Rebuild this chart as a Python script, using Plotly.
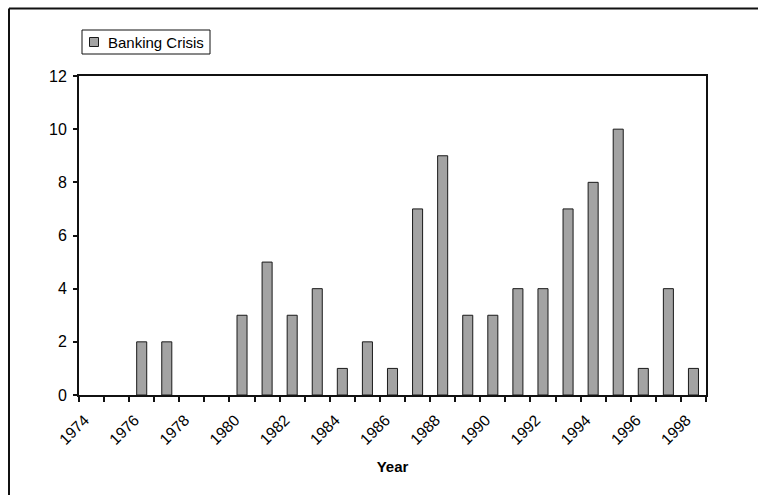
import plotly.graph_objects as go

# Number of banking crises per year
years = [str(y) for y in range(1974, 1999)]
crises = [0, 0, 2, 2, 0, 0, 3, 5, 3, 4, 1, 2, 1, 7, 9, 3, 3, 4, 4, 7, 8, 10, 1, 4, 1]
# Only every other year gets a label
tick_text = [y if int(y) % 2 == 0 else "" for y in years]
series_name = "Banking Crisis"

W, H = 758, 495
L, R, T, B = 79, 52, 76, 100
PW, PH = W - L - R, H - T - B

FONT = "Liberation Sans, Arial, Helvetica, sans-serif"
BAR_FILL = "#a3a3a3"
INK = "#111111"


def px_x(px):
    """Page pixel x -> paper coordinate."""
    return (px - L) / PW


def px_y(py):
    """Page pixel y -> paper coordinate."""
    return (H - B - py) / PH


fig = go.Figure(
    go.Bar(
        x=years,
        y=crises,
        name=series_name,
        marker=dict(
            color=BAR_FILL,
            # no outline on empty years so nothing shows on the baseline
            line=dict(color="#1a1a1a", width=[0 if v == 0 else 1 for v in crises]),
        ),
        showlegend=False,
    )
)

shapes = [
    # chart-area frame (top and left edges)
    dict(type="line", xref="paper", yref="paper",
         x0=px_x(9), x1=px_x(W + 5), y0=px_y(8.5), y1=px_y(8.5),
         line=dict(color=INK, width=2)),
    dict(type="line", xref="paper", yref="paper",
         x0=px_x(9), x1=px_x(9), y0=px_y(8.5), y1=px_y(H + 5),
         line=dict(color=INK, width=2)),
    # legend box
    dict(type="rect", xref="paper", yref="paper",
         x0=px_x(82), x1=px_x(210), y0=px_y(30), y1=px_y(54),
         line=dict(color=INK, width=1), fillcolor="white"),
    # legend swatch
    dict(type="rect", xref="paper", yref="paper",
         x0=px_x(89.5), x1=px_x(98.5), y0=px_y(37.5), y1=px_y(46.5),
         line=dict(color="#1a1a1a", width=1), fillcolor=BAR_FILL),
]

annotations = [
    dict(text=series_name, xref="paper", yref="paper",
         x=px_x(106), y=px_y(42), xanchor="left", yanchor="middle",
         showarrow=False, font=dict(family=FONT, size=15, color="black")),
]

fig.update_layout(
    width=W,
    height=H,
    margin=dict(l=L, r=R, t=T, b=B, autoexpand=False),
    paper_bgcolor="white",
    plot_bgcolor="white",
    bargap=0.6,
    font=dict(family=FONT, size=15, color="black"),
    shapes=shapes,
    annotations=annotations,
    xaxis=dict(
        type="category",
        categoryorder="array",
        categoryarray=years,
        tickmode="array",
        tickvals=years,
        ticktext=tick_text,
        tickson="boundaries",
        ticks="outside",
        ticklen=5,
        tickwidth=1.5,
        tickcolor=INK,
        tickangle=-45,
        tickfont=dict(family=FONT, size=15.5),
        ticklabelstandoff=8,
        ticklabelshift=-7,
        showline=True,
        linecolor=INK,
        linewidth=2,
        mirror=True,
        showgrid=False,
        automargin=False,
        title=dict(text="<b>Year</b>", font=dict(family=FONT, size=15)),
    ),
    yaxis=dict(
        range=[0, 12],
        tickmode="linear",
        tick0=0,
        dtick=2,
        ticks="outside",
        ticklen=4,
        tickwidth=1.5,
        tickcolor=INK,
        tickfont=dict(family=FONT, size=16),
        ticklabelstandoff=3,
        showline=True,
        linecolor=INK,
        linewidth=2,
        mirror=True,
        showgrid=False,
        zeroline=False,
        automargin=False,
    ),
)

fig.write_html("out.html")
